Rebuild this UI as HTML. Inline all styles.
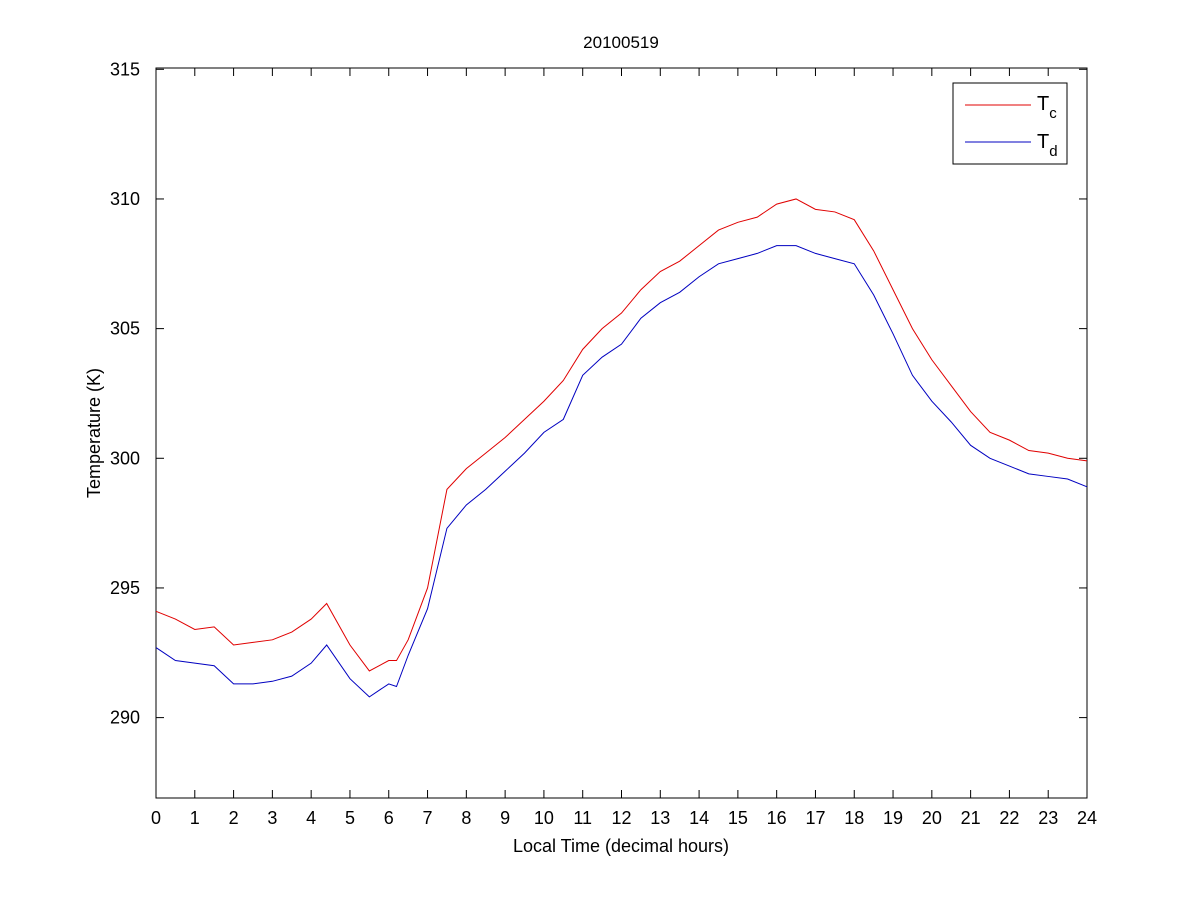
<!DOCTYPE html>
<html><head><meta charset="utf-8"><style>
body{margin:0;background:#fff;}
svg text{font-family:"Liberation Sans",Arial,sans-serif;fill:#000;}
</style></head><body>
<svg id="chart" width="1201" height="900" xmlns="http://www.w3.org/2000/svg">
<rect width="1201" height="900" fill="#fff"/>
<g id="plot"></g>
</svg>
<script>
const hours = [0,0.5,1,1.5,2,2.5,3,3.5,4,4.4,5,5.5,6,6.2,6.5,7,7.5,8,8.5,9,9.5,10,10.5,11,11.5,12,12.5,13,13.5,14,14.5,15,15.5,16,16.5,17,17.5,18,18.5,19,19.5,20,20.5,21,21.5,22,22.5,23,23.5,24];
const tc = [294.1,293.8,293.4,293.5,292.8,292.9,293.0,293.3,293.8,294.4,292.8,291.8,292.2,292.2,293.0,295.0,298.8,299.6,300.2,300.8,301.5,302.2,303.0,304.2,305.0,305.6,306.5,307.2,307.6,308.2,308.8,309.1,309.3,309.8,310.0,309.6,309.5,309.2,308.0,306.5,305.0,303.8,302.8,301.8,301.0,300.7,300.3,300.2,300.0,299.9];
const td = [292.7,292.2,292.1,292.0,291.3,291.3,291.4,291.6,292.1,292.8,291.5,290.8,291.3,291.2,292.4,294.2,297.3,298.2,298.8,299.5,300.2,301.0,301.5,303.2,303.9,304.4,305.4,306.0,306.4,307.0,307.5,307.7,307.9,308.2,308.2,307.9,307.7,307.5,306.3,304.8,303.2,302.2,301.4,300.5,300.0,299.7,299.4,299.3,299.2,298.9];
const xTicks = [0,1,2,3,4,5,6,7,8,9,10,11,12,13,14,15,16,17,18,19,20,21,22,23,24];
const yTicks = [290,295,300,305,310,315];

const L=156,R=1087,T=68,B=798,ymin=286.9,ymax=315.05;
const sx=v=>L+(v-0)/(24)*(R-L);
const sy=v=>B-(v-ymin)/(ymax-ymin)*(B-T);
const NS="http://www.w3.org/2000/svg";
const g=document.getElementById('plot');
function mk(tag,attrs,parent){const e=document.createElementNS(NS,tag);for(const k in attrs)e.setAttribute(k,attrs[k]);(parent||g).appendChild(e);return e;}

const frame=mk('rect',{x:L,y:T,width:R-L,height:B-T,fill:'#fff',stroke:'#000','stroke-width':1});



xTicks.forEach(v=>{
  const x=sx(v);
  mk('line',{x1:x,y1:B,x2:x,y2:B-8,stroke:'#000'});
  mk('line',{x1:x,y1:T,x2:x,y2:T+8,stroke:'#000'});
  const t=mk('text',{x:x,y:B+26,'font-size':18,'text-anchor':'middle'});
  t.textContent=v;
  
  
});
yTicks.forEach(v=>{
  const y=sy(v);
  mk('line',{x1:L,y1:y,x2:L+8,y2:y,stroke:'#000'});
  mk('line',{x1:R,y1:y,x2:R-8,y2:y,stroke:'#000'});
  const t=mk('text',{x:L-16,y:y+6,'font-size':18,'text-anchor':'end'});
  t.textContent=v;
  
  
});

function line(vals,color,name){
  const p=mk('polyline',{points:hours.map((h,i)=>sx(h)+','+sy(vals[i])).join(' '),fill:'none',stroke:color,'stroke-width':1});
  
  
}
line(tc,'#e00000','tc-series');
line(td,'#0000c0','td-series');

const title=mk('text',{x:621,y:48,'font-size':17,'text-anchor':'middle'});
title.textContent='20100519';


const xl=mk('text',{x:621,y:852,'font-size':18,'text-anchor':'middle'});
xl.textContent='Local Time (decimal hours)';


const yl=mk('text',{x:0,y:0,'font-size':18,'text-anchor':'middle',transform:'translate(100,433) rotate(-90)'});
yl.textContent='Temperature (K)';



const lg=mk('g',{});


mk('rect',{x:953,y:83,width:114,height:81,fill:'#fff',stroke:'#000'},lg);
mk('line',{x1:965,y1:105,x2:1031,y2:105,stroke:'#e00000'},lg);
mk('line',{x1:965,y1:142,x2:1031,y2:142,stroke:'#0000c0'},lg);
const l1=mk('text',{x:1037,y:110,'font-size':20},lg);
l1.innerHTML='T<tspan font-size="15" dy="8">c</tspan>';


const l2=mk('text',{x:1037,y:148,'font-size':20},lg);
l2.innerHTML='T<tspan font-size="15" dy="8">d</tspan>';


</script>
</body></html>
